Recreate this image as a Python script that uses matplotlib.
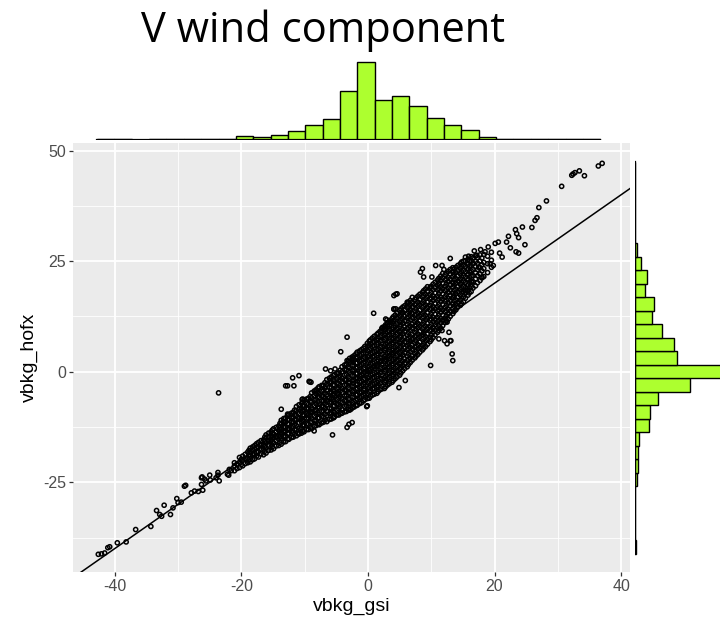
import numpy as np
import matplotlib
matplotlib.use("Agg")
import matplotlib.pyplot as plt

plt.rcParams['font.family'] = ['Liberation Sans', 'DejaVu Sans']
plt.rcParams['axes.unicode_minus'] = False

# --- scatter data (vbkg_gsi, vbkg_hofx) ---
# dense band: one x per column, list of hofx values in that column
core_x = [-21.1, -20.3, -19.8, -19.0, -18.6, -17.9, -17.3, -16.5, -16.1, -15.3,
          -14.9, -14.1, -13.7, -13.0, -12.5, -11.8, -11.3, -10.5, -10.1, -9.4,
          -8.9, -8.2, -7.7, -7.0, -6.5, -5.8, -5.3, -4.6, -4.1, -3.4,
          -2.9, -2.2, -1.7, -1.0, -0.5, 0.2, 0.7, 1.4, 1.9, 2.6,
          3.1, 3.8, 4.3, 5.0, 5.5, 6.2, 6.7, 7.4, 7.9, 8.6,
          9.1, 9.8, 10.3, 11.0, 11.5, 12.2, 12.7, 13.4, 13.9, 14.6,
          15.1, 15.8, 16.3, 17.0, 17.7, 18.3, 18.9, 19.5]
core_y = [
    [-22.4, -21.3, -20.6],
    [-21.7, -20.5, -19.4],
    [-21.3, -20.0, -19.1],
    [-20.6, -19.5, -18.2],
    [-20.4, -19.1, -18.2, -17.3],
    [-19.7, -18.6, -17.5, -16.7],
    [-19.3, -18.1, -17.0, -16.0],
    [-18.8, -17.5, -16.5, -15.4],
    [-18.4, -17.2, -16.1, -15.0, -14.3],
    [-17.7, -16.4, -15.5, -14.5, -13.6],
    [-17.4, -16.1, -15.0, -14.1, -12.9],
    [-16.7, -15.3, -14.4, -13.3, -12.3],
    [-16.4, -15.1, -13.9, -13.0, -11.9, -11.0],
    [-15.8, -14.6, -13.4, -12.5, -11.3, -10.5],
    [-15.3, -14.0, -13.1, -11.9, -10.8, -9.7],
    [-14.8, -13.7, -12.4, -11.4, -10.3, -9.2],
    [-14.5, -13.1, -12.2, -10.9, -9.9, -8.8, -7.9],
    [-13.9, -12.7, -11.4, -10.5, -9.2, -8.3, -7.2],
    [-13.6, -12.2, -11.2, -9.9, -8.8, -7.7, -6.5],
    [-13.1, -11.9, -10.5, -9.6, -8.3, -7.4, -6.0],
    [-12.9, -11.5, -10.5, -9.1, -8.2, -6.9, -5.9, -4.8],
    [-12.2, -11.0, -9.6, -8.6, -7.3, -6.3, -5.0, -4.1],
    [-12.0, -10.5, -9.6, -8.2, -7.3, -5.9, -5.0, -3.4],
    [-11.4, -10.3, -8.9, -7.9, -6.6, -5.6, -4.2, -3.1],
    [-11.3, -9.9, -8.9, -7.5, -6.5, -5.2, -4.2, -2.8, -1.8],
    [-10.7, -9.3, -8.3, -6.9, -6.0, -4.6, -3.6, -2.3, -1.2],
    [-10.2, -9.2, -7.8, -6.8, -5.4, -4.4, -3.1, -2.1, -0.7],
    [-9.8, -8.4, -7.4, -6.0, -5.0, -3.7, -2.7, -1.3, -0.3],
    [-9.4, -8.4, -7.0, -6.0, -4.7, -3.7, -2.3, -1.4, 0.0, 1.1],
    [-9.0, -7.6, -6.7, -5.3, -4.3, -2.9, -1.9, -0.6, 0.4, 1.7],
    [-8.7, -7.3, -6.3, -4.9, -3.9, -2.5, -1.6, -0.2, 0.8, 2.2, 3.0],
    [-8.0, -6.7, -5.7, -4.3, -3.3, -1.9, -1.0, 0.4, 1.4, 2.7, 3.6],
    [-7.6, -6.2, -5.2, -3.8, -2.8, -1.4, -0.4, 1.0, 2.0, 3.3, 4.4],
    [-7.0, -5.6, -4.6, -3.2, -2.2, -0.8, 0.2, 1.6, 2.6, 3.9, 5.0],
    [-6.3, -4.9, -3.9, -2.5, -1.5, -0.1, 0.9, 2.3, 3.3, 4.7, 5.7],
    [-6.0, -4.6, -3.6, -2.2, -1.2, 0.2, 1.2, 2.6, 3.6, 5.0, 5.9, 6.9],
    [-5.3, -3.9, -2.9, -1.5, -0.5, 0.9, 1.9, 3.3, 4.3, 5.7, 6.6, 7.6],
    [-4.9, -3.5, -2.5, -1.1, -0.1, 1.3, 2.3, 3.7, 4.7, 6.1, 7.1, 8.4],
    [-4.1, -2.7, -1.7, -0.3, 0.7, 2.1, 3.1, 4.5, 5.5, 6.9, 7.9, 9.1],
    [-3.8, -2.4, -1.4, 0.0, 1.0, 2.4, 3.4, 4.8, 5.8, 7.2, 8.2, 9.5, 10.2],
    [-3.0, -1.6, -0.6, 0.8, 1.8, 3.2, 4.2, 5.6, 6.6, 8.0, 9.0, 10.3, 11.0],
    [-2.4, -1.0, 0.0, 1.4, 2.4, 3.8, 4.8, 6.2, 7.2, 8.6, 9.6, 11.0, 12.0],
    [-1.6, -0.2, 0.8, 2.2, 3.2, 4.6, 5.6, 7.0, 8.0, 9.4, 10.4, 11.8, 12.8],
    [-0.8, 0.6, 1.6, 3.0, 4.0, 5.4, 6.4, 7.8, 8.8, 10.2, 11.2, 12.6, 13.8],
    [0.2, 1.4, 2.4, 3.8, 4.8, 6.2, 7.2, 8.6, 9.6, 11.0, 12.0, 13.4, 14.6],
    [1.1, 2.5, 3.5, 4.9, 5.9, 7.3, 8.3, 9.7, 10.7, 12.1, 13.1, 14.5, 15.3],
    [2.1, 3.1, 4.5, 5.5, 6.9, 7.9, 9.3, 10.3, 11.7, 12.7, 14.1, 15.2, 16.1],
    [3.1, 4.1, 5.5, 6.5, 7.9, 8.9, 10.3, 11.3, 12.7, 13.7, 15.1, 16.3],
    [3.9, 5.1, 6.1, 7.5, 8.5, 9.9, 10.9, 12.3, 13.3, 14.7, 15.7, 17.1],
    [4.9, 5.9, 7.3, 8.3, 9.7, 10.7, 12.1, 13.1, 14.5, 15.5, 16.9, 17.9],
    [5.7, 6.9, 7.9, 9.3, 10.3, 11.7, 12.7, 14.1, 15.1, 16.5, 17.5, 18.7],
    [6.8, 7.8, 9.2, 10.2, 11.6, 12.6, 14.0, 15.0, 16.4, 17.4, 18.9],
    [7.7, 8.9, 9.9, 11.3, 12.3, 13.7, 14.7, 16.1, 17.1, 18.5, 19.8],
    [8.9, 9.9, 11.3, 12.3, 13.7, 14.7, 16.1, 17.1, 18.5, 19.5, 20.7],
    [9.8, 11.0, 12.0, 13.4, 14.4, 15.8, 16.8, 18.2, 19.2, 20.6, 21.6],
    [11.1, 12.1, 13.5, 14.5, 15.9, 16.9, 18.3, 19.3, 20.7, 21.9],
    [11.9, 13.1, 14.1, 15.5, 16.5, 17.9, 18.9, 20.3, 21.3, 22.7],
    [13.1, 14.3, 15.3, 16.7, 17.7, 19.1, 20.1, 21.5, 22.5, 23.5],
    [14.0, 15.2, 16.2, 17.6, 18.6, 20.0, 21.0, 22.4, 23.6],
    [15.0, 16.1, 17.3, 18.5, 19.7, 20.9, 22.1, 23.3, 24.4],
    [15.8, 16.9, 18.1, 19.3, 20.5, 21.7, 22.9, 24.1, 25.0],
    [17.3, 18.4, 19.6, 20.8, 22.0, 23.2, 24.3, 25.4],
    [18.1, 19.2, 20.4, 21.6, 22.8, 24.0, 25.1, 26.0],
    [19.4, 21.0, 22.3, 23.7, 24.9, 26.2],
    [20.6, 22.1, 23.5, 25.0, 26.4],
    [21.5, 23.3, 24.7, 26.5],
    [22.4, 24.4, 26.1],
    [23.6, 25.2, 27.0],
]

# second set of columns lying between the first ones
core2_x = [-20.7, -20.0, -19.4, -18.8, -18.2, -17.6, -16.9, -16.3, -15.7, -15.1,
           -14.5, -13.9, -13.3, -12.7, -12.1, -11.6, -10.9, -10.3, -9.7, -9.1,
           -8.5, -7.9, -7.3, -6.8, -6.1, -5.5, -4.9, -4.4, -3.7, -3.1,
           -2.5, -1.9, -1.3, -0.7, -0.1, 0.4, 1.0, 1.6, 2.2, 2.8,
           3.4, 4.0, 4.6, 5.2, 5.8, 6.4, 7.0, 7.6, 8.2, 8.8,
           9.4, 10.0, 10.6, 11.2, 11.8, 12.4, 13.0, 13.6, 14.2, 14.8,
           15.4, 16.0, 16.6, 17.3, 18.0]
core2_y = [
    [-21.9, -20.9],
    [-21.0, -19.8],
    [-20.8, -19.6, -18.7],
    [-20.0, -18.9, -17.8],
    [-19.9, -18.8, -17.8, -17.0],
    [-19.1, -18.2, -17.2, -16.3],
    [-18.6, -17.6, -16.6, -15.6],
    [-18.0, -16.9, -15.8, -14.8],
    [-17.8, -16.6, -15.7, -14.7, -13.9],
    [-17.0, -15.9, -14.9, -13.9],
    [-16.8, -15.6, -14.6, -13.6, -12.6],
    [-16.0, -14.8, -13.8, -12.7, -11.7],
    [-15.9, -14.7, -13.6, -12.6, -11.5, -10.6],
    [-15.2, -14.0, -12.9, -11.8, -10.9, -10.0],
    [-14.9, -13.5, -12.6, -11.4, -10.4, -9.4],
    [-14.2, -13.1, -12.0, -10.9, -9.8, -8.7],
    [-14.0, -12.8, -11.6, -10.6, -9.5, -8.5, -7.5],
    [-13.4, -12.2, -11.0, -9.9, -8.8, -7.7, -6.9],
    [-13.1, -11.8, -10.7, -9.5, -8.4, -7.2, -6.2],
    [-12.6, -11.4, -10.1, -9.0, -7.8, -6.7, -5.6],
    [-12.4, -11.1, -10.0, -8.8, -7.7, -6.5, -5.4, -4.4],
    [-11.8, -10.5, -9.3, -8.0, -6.8, -5.6, -4.5, -3.7],
    [-11.6, -10.1, -9.0, -7.8, -6.6, -5.4, -4.4, -3.1],
    [-11.0, -9.6, -8.4, -7.2, -6.1, -4.9, -3.7, -2.5],
    [-10.8, -9.5, -8.3, -7.1, -5.9, -4.8, -3.6, -2.5, -1.5],
    [-10.4, -9.0, -7.8, -6.4, -5.3, -4.1, -3.0, -1.8, -0.9],
    [-9.8, -8.7, -7.2, -6.3, -4.9, -3.9, -2.6, -1.6, -0.4],
    [-9.5, -8.0, -6.9, -5.6, -4.4, -3.2, -2.0, -0.9, 0.3],
    [-9.1, -7.9, -6.5, -5.5, -4.1, -3.1, -1.8, -0.8, 0.5, 1.5],
    [-8.6, -7.2, -6.1, -4.8, -3.6, -2.4, -1.2, 0.1, 1.1, 2.4],
    [-8.2, -7.0, -5.8, -4.5, -3.4, -2.1, -0.9, 0.2, 1.3, 2.5, 3.3],
    [-7.7, -6.5, -5.3, -4.0, -3.0, -1.6, -0.5, 0.8, 1.9, 3.1, 4.0],
    [-7.2, -5.9, -4.8, -3.5, -2.4, -1.1, 0.0, 1.3, 2.3, 3.6, 4.7],
    [-6.6, -5.3, -4.2, -2.9, -1.8, -0.5, 0.6, 1.9, 2.9, 4.2, 5.3],
    [-6.1, -4.9, -3.7, -2.4, -1.3, 0.0, 1.1, 2.4, 3.5, 4.8, 5.8, 6.4],
    [-5.6, -4.3, -3.2, -1.8, -0.8, 0.6, 1.6, 2.9, 4.0, 5.3, 6.3, 7.2],
    [-5.1, -3.8, -2.6, -1.3, -0.2, 1.1, 2.2, 3.5, 4.6, 5.9, 6.8, 8.0],
    [-4.5, -3.1, -2.0, -0.7, 0.3, 1.7, 2.7, 4.1, 5.1, 6.5, 7.5, 8.7],
    [-3.9, -2.5, -1.5, -0.1, 0.9, 2.3, 3.3, 4.7, 5.7, 7.0, 8.1, 9.3, 9.8],
    [-3.4, -2.0, -1.0, 0.4, 1.4, 2.8, 3.8, 5.2, 6.2, 7.6, 8.6, 9.9, 10.6],
    [-2.7, -1.3, -0.3, 1.1, 2.1, 3.5, 4.5, 5.9, 6.9, 8.3, 9.3, 10.6, 11.5],
    [-2.0, -0.6, 0.4, 1.8, 2.8, 4.2, 5.2, 6.6, 7.6, 9.0, 10.0, 11.4, 12.4],
    [-1.2, 0.2, 1.2, 2.6, 3.6, 5.0, 6.0, 7.4, 8.4, 9.8, 10.8, 12.2, 13.3],
    [-0.3, 1.0, 2.0, 3.4, 4.4, 5.8, 6.8, 8.2, 9.2, 10.6, 11.6, 13.0, 14.2],
    [0.7, 1.9, 2.9, 4.3, 5.3, 6.7, 7.7, 9.1, 10.1, 11.5, 12.5, 13.9, 14.9],
    [1.6, 2.8, 4.0, 5.2, 6.4, 7.6, 8.8, 10.0, 11.2, 12.4, 13.6, 14.8, 15.7],
    [2.6, 3.6, 5.0, 6.0, 7.4, 8.4, 9.8, 10.8, 12.2, 13.2, 14.6, 15.7],
    [3.5, 4.6, 5.8, 7.0, 8.2, 9.4, 10.6, 11.8, 13.0, 14.2, 15.4, 16.7],
    [4.4, 5.5, 6.7, 7.9, 9.1, 10.3, 11.5, 12.7, 13.9, 15.1, 16.3, 17.5],
    [5.3, 6.4, 7.6, 8.8, 10.0, 11.2, 12.4, 13.6, 14.8, 16.0, 17.2, 18.3],
    [6.2, 7.3, 8.5, 9.7, 10.9, 12.1, 13.3, 14.5, 15.7, 16.9, 18.1, 19.2],
    [7.2, 8.3, 9.5, 10.7, 11.9, 13.1, 14.3, 15.5, 16.7, 17.9, 19.3],
    [8.3, 9.4, 10.6, 11.8, 13.0, 14.2, 15.4, 16.6, 17.8, 19.0, 20.2],
    [9.3, 10.4, 11.6, 12.8, 14.0, 15.2, 16.4, 17.6, 18.8, 20.0, 21.1],
    [10.4, 11.6, 12.8, 14.0, 15.2, 16.4, 17.6, 18.8, 20.0, 21.2, 22.2],
    [11.5, 12.6, 13.8, 15.0, 16.2, 17.4, 18.6, 19.8, 21.0, 22.3],
    [12.5, 13.7, 14.9, 16.1, 17.3, 18.5, 19.7, 20.9, 22.1, 23.1],
    [13.6, 14.8, 16.0, 17.2, 18.4, 19.6, 20.8, 22.0, 23.2],
    [14.6, 15.7, 16.9, 18.1, 19.3, 20.5, 21.7, 22.9, 24.0],
    [15.4, 16.6, 17.8, 19.0, 20.2, 21.4, 22.6, 23.8, 24.8],
    [16.6, 17.8, 19.0, 20.2, 21.4, 22.6, 23.8, 25.0],
    [17.8, 19.0, 20.2, 21.4, 22.6, 23.8, 25.0],
    [18.9, 20.3, 21.7, 23.1, 24.5, 25.7],
    [20.1, 21.7, 23.1, 24.5, 25.8],
    [21.2, 22.8, 24.2, 25.7],
]

low_tail = [(-42.6, -41.3), (-42.1, -41.2), (-41.6, -41.0), (-41.1, -39.8), (-40.8, -39.6),
            (-39.6, -38.7), (-38.2, -38.5), (-36.7, -35.7), (-34.3, -35.0), (-33.4, -31.4),
            (-32.2, -30.2), (-32.9, -32.3), (-32.6, -32.7), (-31.2, -32.3), (-30.8, -30.8),
            (-30.2, -28.7), (-30.0, -29.6), (-29.5, -29.5), (-29.0, -25.9), (-28.8, -25.7),
            (-27.9, -27.4), (-27.4, -27.0), (-26.8, -27.1), (-26.1, -26.8), (-26.3, -25.5),
            (-26.2, -23.8), (-25.6, -24.7), (-25.0, -23.4), (-24.9, -24.5), (-23.7, -23.4),
            (-23.5, -24.7), (-22.0, -23.4), (-21.6, -22.4), (-26.3, -24.0), (-25.8, -24.3),
            (-24.0, -24.0), (-23.7, -22.8), (-22.2, -23.2), (-21.9, -22.1)]

mid_outliers = [(-23.6, -4.8), (-13.7, -8.5), (-12.7, -9.6), (-11.7, -3.2), (-10.9, -0.9),
                (-11.9, -1.4), (-12.7, -3.2), (-9.0, -2.4), (-8.2, -4.3), (-10.9, -14.1),
                (-8.5, -13.4), (-3.3, 7.8), (-4.3, 4.5), (0.9, 13.2), (4.4, 17.5),
                (4.4, 14.2), (3.0, 11.7), (2.3, 9.7), (-9.3, -2.2), (-6.7, 0.6),
                (-5.9, 0.2), (-5.2, 0.6), (-3.3, 2.5), (-2.5, 2.9), (9.9, 1.4),
                (5.9, -2.0), (4.9, -3.6), (-0.1, -7.7), (-2.7, -8.5), (-3.0, -11.9),
                (-2.5, -11.5), (-5.4, -10.4), (-10.3, -6.2), (-9.2, -2.3), (-10.4, -6.3),
                (-13.4, -11.3), (-15.1, -13.2), (-5.6, -14.3), (-3.3, -12.6), (-0.2, -7.9),
                (4.1, 14.1), (5.4, 13.4), (13.3, 4.0), (13.4, 2.5), (12.1, 7.0),
                (13.1, 7.0), (-13.0, -3.2), (12.5, 11.2), (12.8, 8.9), (13.0, 7.0),
                (12.5, 6.3), (11.2, 7.4), (11.7, 9.3), (-12.4, -13.0), (-14.0, -13.4)]

upper_spread = [(20.1, 29.0), (20.6, 29.3), (21.9, 29.3), (22.2, 30.6), (23.3, 32.1),
                (23.5, 31.2), (23.8, 30.3), (24.4, 32.7), (24.8, 28.7), (23.4, 27.1),
                (25.9, 32.6), (26.4, 34.2), (26.7, 34.8), (27.0, 37.1), (28.2, 38.6),
                (30.6, 41.9), (32.2, 44.4), (32.7, 45.0), (33.4, 45.4), (32.4, 44.7),
                (34.2, 44.3), (36.4, 46.5), (37.0, 47.1), (8.6, 23.3), (8.3, 22.5),
                (8.8, 21.4), (10.1, 21.4), (10.7, 24.0), (11.7, 24.0), (13.0, 25.6),
                (12.0, 23.1), (11.2, 19.9), (4.1, 17.2), (4.6, 17.6), (5.4, 13.2),
                (4.1, 14.2), (2.8, 11.9), (3.6, 11.2), (2.3, 10.0), (7.0, 16.8),
                (6.2, 15.7), (6.7, 13.8), (9.9, 19.1), (15.4, 25.9), (15.9, 26.1),
                (17.2, 26.3), (18.5, 27.1), (19.3, 24.4), (19.8, 24.0), (21.2, 25.9),
                (18.0, 21.4), (16.4, 20.3), (17.5, 23.6), (13.5, 16.8), (15.4, 18.4),
                (23.8, 26.8), (19.0, 28.2), (17.8, 27.6), (16.8, 27.3), (20.8, 26.8),
                (22.5, 28.0)]

# --- marginal histograms (counts read as bar lengths) ---
gsi_counts = [1, 1, 0, 2, 2, 2, 2, 3, 11, 9, 14, 27, 43, 63, 147, 233,
              118, 130, 102, 65, 45, 30, 7, 1, 1, 2, 1, 2, 1]
gsi_range = (-42.8, 36.7)
hofx_counts = [3, 1, 1, 1, 1, 6, 10, 10, 13, 43, 47, 71, 167, 270, 128,
               119, 83, 52, 58, 32, 36, 20, 8, 1, 1, 1, 1, 1, 2]
hofx_range = (-41.2, 47.3)

# flatten scatter data
gsi, hofx = [], []
for cols_x, cols_y in ((core_x, core_y), (core2_x, core2_y)):
    for xc, ys in zip(cols_x, cols_y):
        for yv in ys:
            gsi.append(xc)
            hofx.append(yv)
for x, y in low_tail + mid_outliers + upper_spread:
    gsi.append(x)
    hofx.append(y)

W, H = 720, 622
fig = plt.figure(figsize=(W / 100, H / 100), dpi=100)

def box(l, t, r, b):
    return [l / W, 1 - b / H, (r - l) / W, (b - t) / H]

xlim = (-46.6, 41.4)
ylim = (-45.3, 51.7)

ax = fig.add_axes(box(73, 143, 630, 572))
ax.set_facecolor('#EBEBEB')
for s in ax.spines.values():
    s.set_visible(False)
ax.set_xticks([-40, -20, 0, 20, 40])
ax.set_xticks([-30, -10, 10, 30], minor=True)
ax.set_yticks([-25, 0, 25, 50])
ax.set_yticks([-37.5, -12.5, 12.5, 37.5], minor=True)
ax.grid(which='major', color='white', linewidth=1.3)
ax.grid(which='minor', color='white', linewidth=0.6)
ax.set_axisbelow(True)
ax.tick_params(which='major', length=3, width=0.9, color='#333333',
               labelcolor='#4D4D4D', labelsize=11.5, pad=2)
ax.tick_params(which='minor', length=0)
ax.set_xlim(xlim)
ax.set_ylim(ylim)

ax.scatter(gsi, hofx, s=9, facecolors='none', edgecolors='black', linewidths=1.1, zorder=3)
ax.plot(xlim, xlim, color='black', linewidth=1.1, zorder=4)

ax.set_xlabel('vbkg_gsi', fontsize=14, labelpad=3)
ax.set_ylabel('vbkg_hofx', fontsize=14, labelpad=4)

# top marginal
axt = fig.add_axes(box(73, 58, 630, 139.5))
edges = np.linspace(gsi_range[0], gsi_range[1], len(gsi_counts) + 1)
axt.plot(gsi_range, [0, 0], color='black', linewidth=1.6)
axt.bar(edges[:-1], gsi_counts, width=np.diff(edges), align='edge',
        color='#ADFF2F', edgecolor='black', linewidth=1.0)
axt.set_xlim(xlim)
axt.set_ylim(0, 245)
axt.axis('off')

# right marginal (runs off the image edge like the reference)
axr = fig.add_axes(box(634.7, 143, 720, 572))
edges = np.linspace(hofx_range[0], hofx_range[1], len(hofx_counts) + 1)
axr.plot([0, 0], hofx_range, color='black', linewidth=1.6)
axr.barh(edges[:-1], hofx_counts, height=np.diff(edges), align='edge',
         color='#ADFF2F', edgecolor='black', linewidth=1.0)
axr.set_ylim(ylim)
axr.set_xlim(0, 256)
axr.axis('off')

fig.text(323 / W, 1 - 42 / H, 'V wind component', fontsize=30,
         family=['Open Sans', 'DejaVu Sans'], ha='center', va='baseline')

fig.savefig('out.png', dpi=100)
